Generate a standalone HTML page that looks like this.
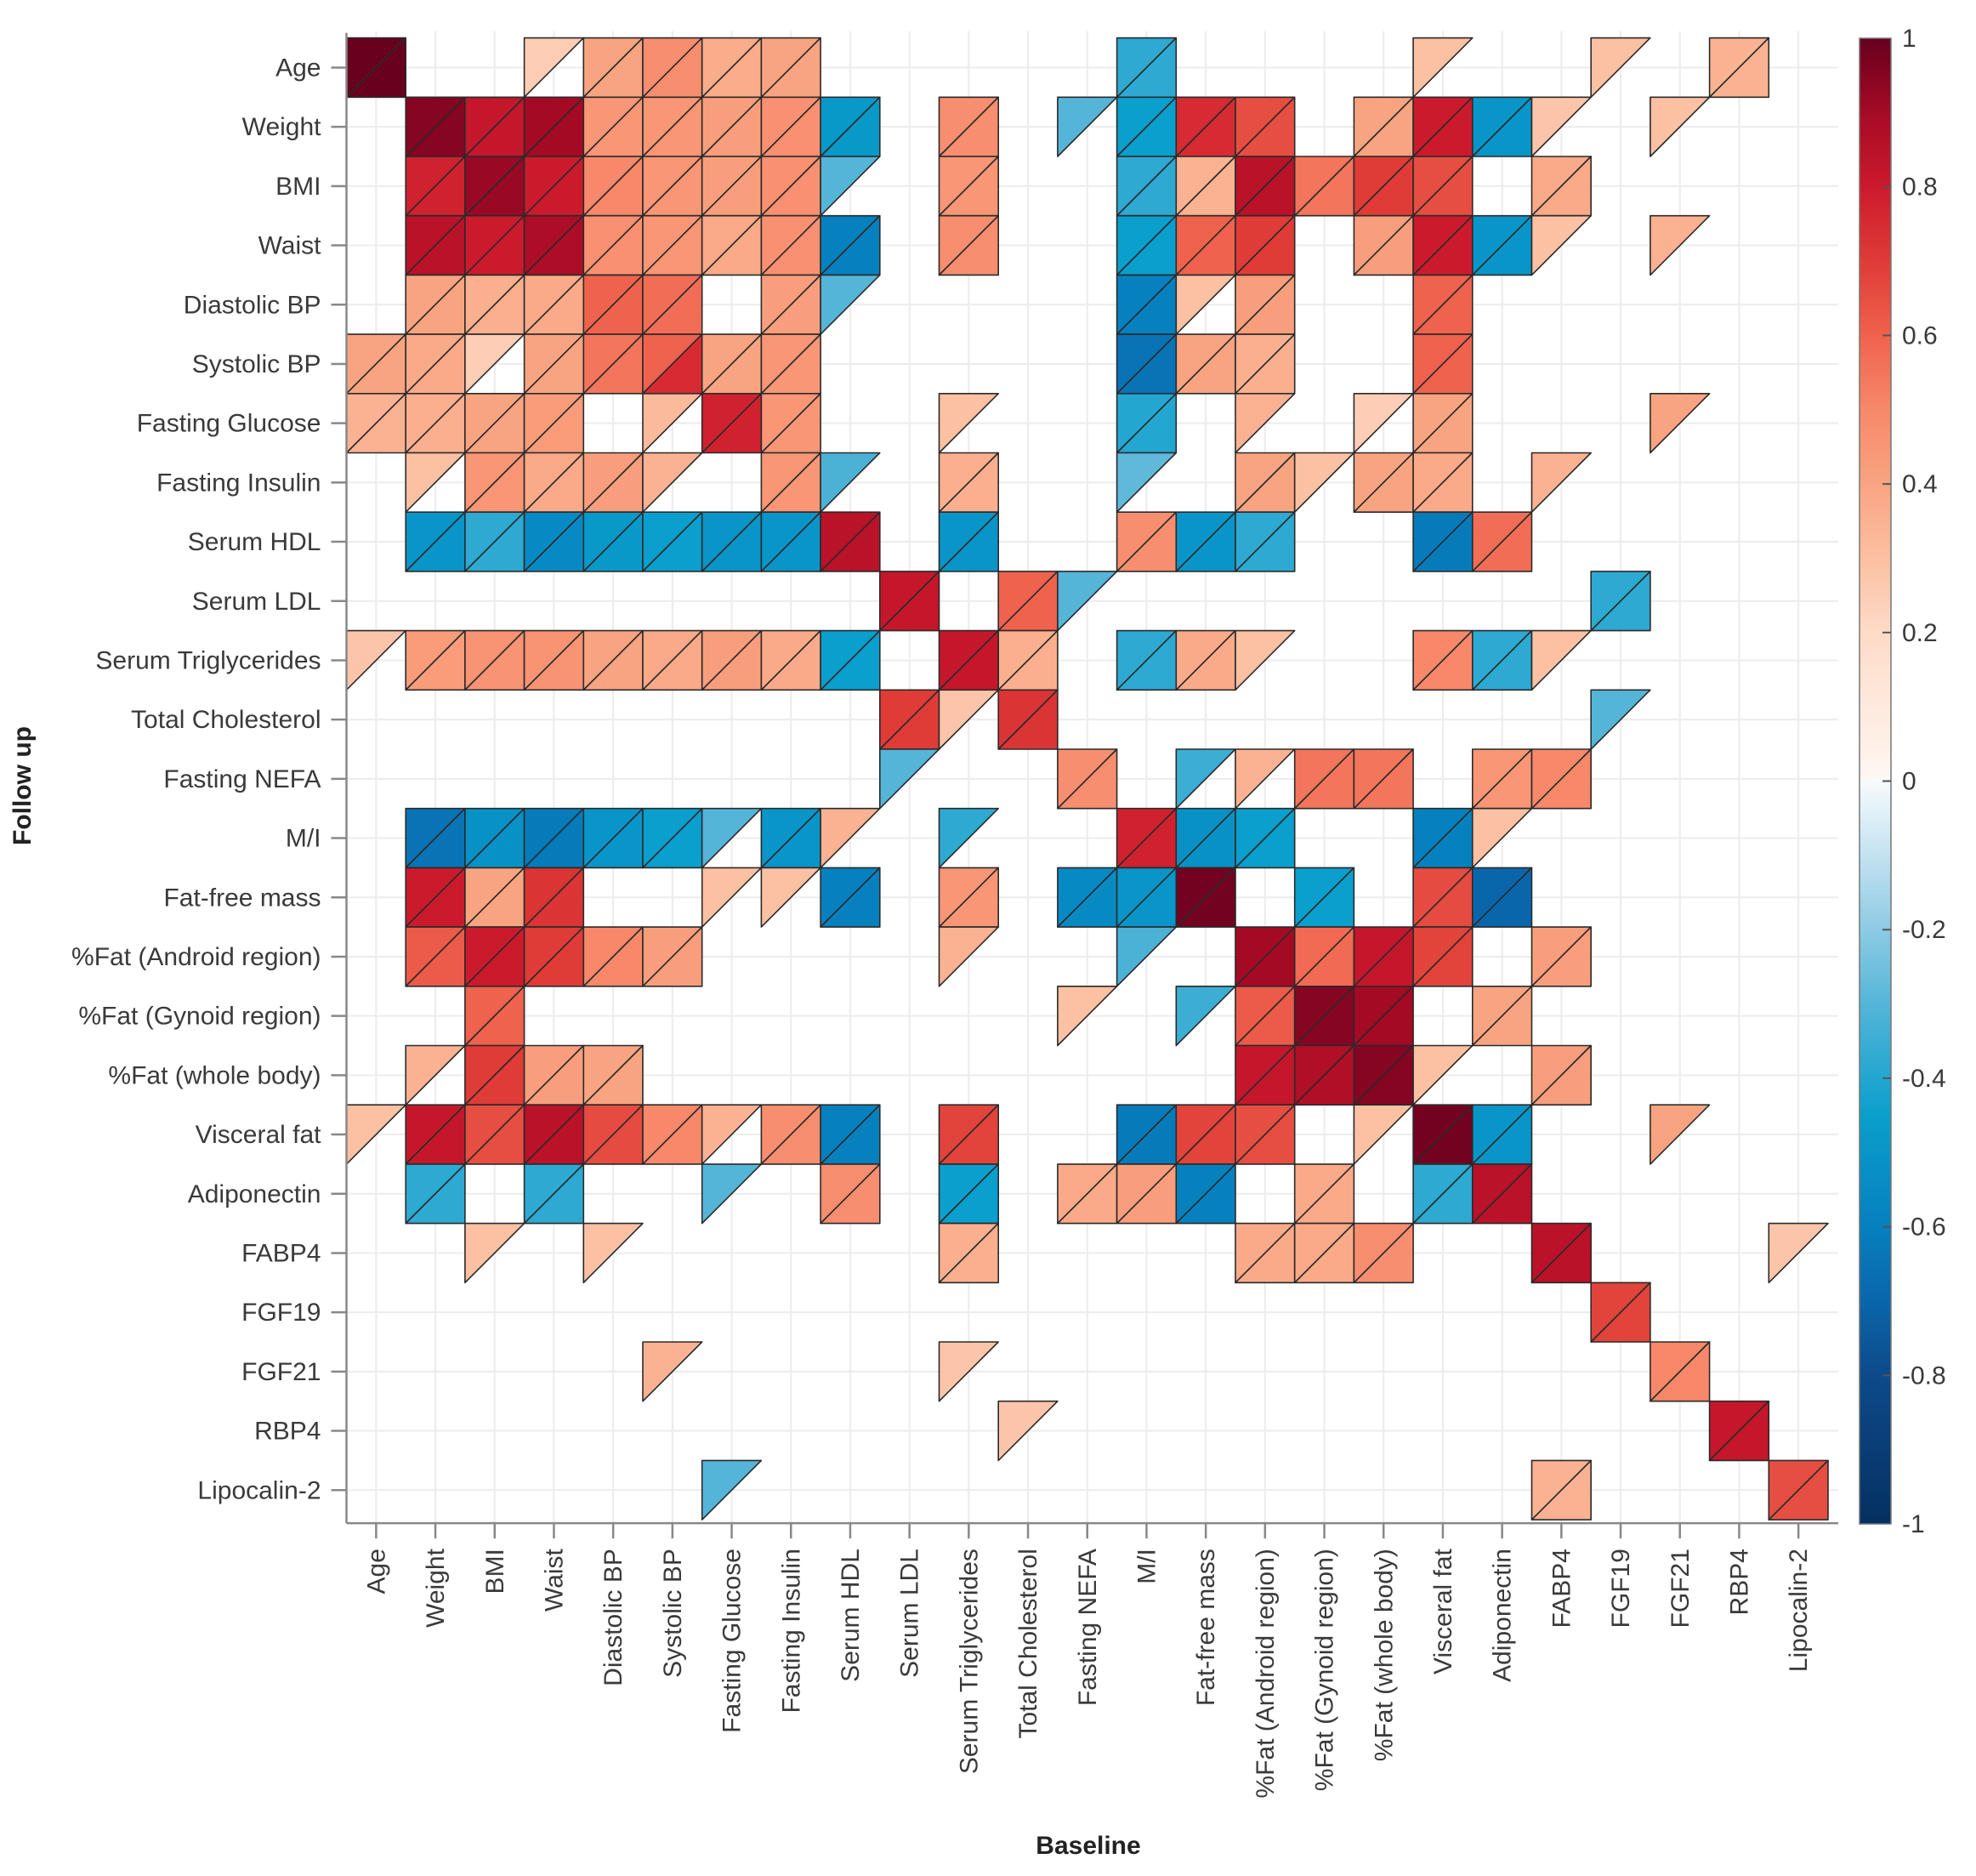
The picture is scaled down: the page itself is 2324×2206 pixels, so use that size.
<!DOCTYPE html>
<html><head><meta charset="utf-8"><title>Correlation heatmap</title>
<style>
html,body{margin:0;padding:0;background:#fff;}
svg{display:block;font-family:"Liberation Sans",Arial,sans-serif;}
</style></head>
<body>
<svg id="chart" width="2324" height="2206" viewBox="0 0 2324 2206" xmlns="http://www.w3.org/2000/svg">
<defs>
<linearGradient id="cbgrad" x1="0" y1="1" x2="0" y2="0"></linearGradient>
</defs>
<g id="grid"></g>
<g id="cells"></g>
<g id="axes"></g>
<g id="colorbar"></g>
<text x="0" y="0" transform="translate(36,924) rotate(-90)" text-anchor="middle" font-size="30" font-weight="bold" fill="#222">Follow up</text>
<text x="1280" y="2180" text-anchor="middle" font-size="30" font-weight="bold" fill="#222">Baseline</text>
</svg>
<script>
const variables = ["Age","Weight","BMI","Waist","Diastolic BP","Systolic BP","Fasting Glucose","Fasting Insulin","Serum HDL","Serum LDL","Serum Triglycerides","Total Cholesterol","Fasting NEFA","M/I","Fat-free mass","%Fat (Android region)","%Fat (Gynoid region)","%Fat (whole body)","Visceral fat","Adiponectin","FABP4","FGF19","FGF21","RBP4","Lipocalin-2"];
const colorbarTicks = [1,0.8,0.6,0.4,0.2,0,-0.2,-0.4,-0.6,-0.8,-1];
// each row: [baselineColumn, upperTriangleValue, lowerTriangleValue]
const row0 = [[0,1,1],[3,.25,null],[4,.4,.4],[5,.48,.48],[6,.37,.37],[7,.4,.4],[13,-.38,-.38],[18,.3,null],[21,.3,null],[23,.35,.35]];
const row1 = [[1,.95,.95],[2,.82,.82],[3,.9,.9],[4,.45,.45],[5,.45,.45],[6,.42,.42],[7,.47,.47],[8,-.48,-.48],[10,.48,.48],[12,-.3,null],[13,-.45,-.45],[14,.75,.75],[15,.65,.65],[17,.4,.4],[18,.8,.8],[19,-.5,-.5],[20,.28,null],[22,.3,null]];
const row2 = [[1,.78,.78],[2,.92,.92],[3,.8,.8],[4,.5,.5],[5,.45,.45],[6,.42,.42],[7,.47,.47],[8,-.3,null],[10,.45,.45],[13,-.38,-.38],[14,.35,.35],[15,.85,.85],[16,.55,.55],[17,.7,.7],[18,.65,.65],[20,.38,.38]];
const row3 = [[1,.85,.85],[2,.8,.8],[3,.88,.88],[4,.47,.47],[5,.45,.45],[6,.38,.38],[7,.47,.47],[8,-.6,-.6],[10,.48,.48],[13,-.45,-.45],[14,.6,.6],[15,.7,.7],[17,.42,.42],[18,.8,.8],[19,-.5,-.5],[20,.3,null],[22,.35,null]];
const row4 = [[1,.4,.4],[2,.36,.36],[3,.38,.38],[4,.6,.6],[5,.57,.57],[7,.42,.42],[8,-.3,null],[13,-.6,-.6],[14,.3,null],[15,.42,.42],[18,.6,.6]];
const row5 = [[0,.4,.4],[1,.38,.38],[2,.25,null],[3,.4,.4],[4,.55,.55],[5,.6,.75],[6,.4,.4],[7,.45,.45],[13,-.65,-.65],[14,.4,.4],[15,.36,.36],[18,.6,.6]];
const row6 = [[0,.35,.35],[1,.36,.36],[2,.4,.4],[3,.43,.43],[5,.32,null],[6,.78,.78],[7,.45,.45],[10,.3,null],[13,-.4,-.4],[15,.35,null],[17,.25,null],[18,.4,.4],[22,.4,null]];
const row7 = [[1,.3,null],[2,.45,.45],[3,.38,.38],[4,.42,.42],[5,.35,null],[7,.45,.45],[8,-.32,null],[10,.36,.36],[13,-.28,null],[15,.4,.4],[16,.3,null],[17,.4,.4],[18,.38,.38],[20,.35,null]];
const row8 = [[1,-.5,-.5],[2,-.38,-.38],[3,-.55,-.55],[4,-.48,-.48],[5,-.45,-.45],[6,-.5,-.5],[7,-.5,-.5],[8,.85,.85],[10,-.5,-.5],[13,.48,.48],[14,-.5,-.5],[15,-.38,-.38],[18,-.62,-.62],[19,.57,.57]];
const row9 = [[9,.82,.82],[11,.6,.6],[12,-.3,null],[21,-.38,-.38]];
const row10 = [[0,.28,null],[1,.43,.43],[2,.46,.46],[3,.46,.46],[4,.4,.4],[5,.38,.38],[6,.42,.42],[7,.38,.38],[8,-.45,-.45],[10,.82,.82],[11,.36,.36],[13,-.38,-.38],[14,.38,.38],[15,.3,null],[18,.5,.5],[19,-.38,-.38],[20,.3,null]];
const row11 = [[9,.7,.7],[10,.28,null],[11,.72,.72],[21,-.3,null]];
const row12 = [[9,-.3,null],[12,.48,.48],[14,-.35,null],[15,.35,null],[16,.55,.55],[17,.55,.55],[19,.45,.45],[20,.5,.5]];
const row13 = [[1,-.65,-.65],[2,-.52,-.52],[3,-.62,-.62],[4,-.5,-.5],[5,-.45,-.45],[6,-.3,null],[7,-.5,-.5],[8,.35,null],[10,-.38,null],[13,.78,.78],[14,-.52,-.52],[15,-.45,-.45],[18,-.6,-.6],[19,.3,null]];
const row14 = [[1,.8,.8],[2,.4,.4],[3,.72,.72],[6,.3,null],[7,.3,null],[8,-.6,-.6],[10,.45,.45],[12,-.55,-.55],[13,-.5,-.5],[14,.98,.98],[16,-.45,-.45],[18,.66,.66],[19,-.7,-.7]];
const row15 = [[1,.62,.62],[2,.8,.8],[3,.7,.7],[4,.5,.5],[5,.42,.42],[10,.35,null],[13,-.32,null],[15,.9,.9],[16,.58,.58],[17,.82,.82],[18,.68,.68],[20,.42,.42]];
const row16 = [[2,.6,.6],[12,.3,null],[14,-.35,null],[15,.62,.62],[16,.95,.95],[17,.9,.9],[19,.4,.4]];
const row17 = [[1,.35,null],[2,.7,.7],[3,.42,.42],[4,.4,.4],[15,.82,.82],[16,.87,.87],[17,.95,.95],[18,.3,null],[20,.42,.42]];
const row18 = [[0,.3,null],[1,.82,.82],[2,.65,.65],[3,.85,.85],[4,.66,.66],[5,.5,.5],[6,.35,null],[7,.48,.48],[8,-.6,-.6],[10,.68,.68],[13,-.62,-.62],[14,.68,.68],[15,.65,.65],[17,.3,null],[18,.98,.98],[19,-.5,-.5],[22,.4,null]];
const row19 = [[1,-.38,-.38],[3,-.38,-.38],[6,-.3,null],[8,.48,.48],[10,-.45,-.45],[12,.38,.38],[13,.42,.42],[14,-.6,-.6],[16,.38,.38],[18,-.38,-.38],[19,.85,.85]];
const row20 = [[2,.3,null],[4,.3,null],[10,.36,.36],[15,.38,.38],[16,.38,.38],[17,.48,.48],[20,.85,.85],[24,.28,null]];
const row21 = [[21,.68,.68]];
const row22 = [[5,.35,null],[10,.28,null],[22,.5,.5]];
const row23 = [[11,.28,null],[23,.82,.82]];
const row24 = [[6,-.3,null],[20,.35,.35],[24,.65,.65]];
const rowsData = [row0,row1,row2,row3,row4,row5,row6,row7,row8,row9,row10,row11,row12,row13,row14,row15,row16,row17,row18,row19,row20,row21,row22,row23,row24];

const NS = "http://www.w3.org/2000/svg";
const PL = 407.5, PT = 44.6, CELL = 69.7, N = variables.length;
const PR = PL + CELL * N, PB = PT + CELL * N;
function xPos(c){ return PL + CELL * c; }
function yPos(r){ return PT + CELL * r; }

const stops = [[-1,"#053061"],[-0.8,"#0d4a8a"],[-0.7,"#0a66ab"],[-0.6,"#0680be"],[-0.45,"#0a9fcc"],[-0.3,"#55b5d8"],[-0.15,"#a9d6ea"],[0,"#f7fbfd"],[0.01,"#fff6f1"],[0.2,"#fddbc7"],[0.3,"#fcc0a2"],[0.4,"#f9a481"],[0.5,"#f7886a"],[0.6,"#ef624d"],[0.7,"#df3b37"],[0.8,"#cc1a2d"],[0.9,"#a50a25"],[1,"#67001f"]];
function hex2rgb(h){ return [parseInt(h.substr(1,2),16),parseInt(h.substr(3,2),16),parseInt(h.substr(5,2),16)]; }
function colorFor(v){
  for (let i=0;i<stops.length-1;i++){
    const a=stops[i], b=stops[i+1];
    if (v>=a[0] && v<=b[0]){
      const t=(v-a[0])/(b[0]-a[0]); const ca=hex2rgb(a[1]), cb=hex2rgb(b[1]);
      return "rgb("+ca.map((x,k)=>Math.round(x+(cb[k]-x)*t)).join(",")+")";
    }
  }
  return v<0?stops[0][1]:stops[stops.length-1][1];
}
function mk(tag, attrs, parent){
  const e=document.createElementNS(NS,tag);
  for (const k in attrs) e.setAttribute(k, attrs[k]);
  parent.appendChild(e); return e;
}

// grid
const grid=document.getElementById("grid");
for (let i=0;i<N;i++){
  const gx=mk("line",{x1:xPos(i)+CELL/2,x2:xPos(i)+CELL/2,y1:PT-8,y2:PB+4,stroke:"#ececec","stroke-width":2},grid);
  
  
  const gy=mk("line",{x1:PL,x2:PR+12,y1:yPos(i)+CELL/2,y2:yPos(i)+CELL/2,stroke:"#ececec","stroke-width":2},grid);
  
  
}

// cells
const cells=document.getElementById("cells");
rowsData.forEach((row,r)=>{
  row.forEach(entry=>{
    const c=entry[0], u=entry[1], l=entry[2];
    const x0=xPos(c), x1=xPos(c+1), y0=yPos(r), y1=yPos(r+1);
    if (u!==null){
      const p=mk("polygon",{points:x0+","+y0+" "+x1+","+y0+" "+x0+","+y1,fill:colorFor(u),stroke:"#2a2a2a","stroke-width":1.6,"stroke-linejoin":"round"},cells);
      
      
    }
    if (l!==null){
      const p=mk("polygon",{points:x1+","+y0+" "+x1+","+y1+" "+x0+","+y1,fill:colorFor(l),stroke:"#2a2a2a","stroke-width":1.6,"stroke-linejoin":"round"},cells);
      
      
    }
  });
});

// axes
const axes=document.getElementById("axes");
const yl=mk("line",{x1:PL,x2:PL,y1:PT-6,y2:PB+4,stroke:"#888","stroke-width":2.5},axes);


const xl=mk("line",{x1:PL,x2:PR+12,y1:PB+4,y2:PB+4,stroke:"#888","stroke-width":2.5},axes);


variables.forEach((name,i)=>{
  const cy=yPos(i)+CELL/2;
  const t=mk("line",{x1:PL-18,x2:PL,y1:cy,y2:cy,stroke:"#888","stroke-width":2.5},axes);
  
  
  const lab=mk("text",{x:PL-30,y:cy+10,"text-anchor":"end","font-size":30,fill:"#3a3a3a"},axes);
  lab.textContent=name;
  
  
  const cx=xPos(i)+CELL/2;
  const tx=mk("line",{x1:cx,x2:cx,y1:PB+4,y2:PB+22,stroke:"#888","stroke-width":2.5},axes);
  
  
  const xlab=mk("text",{x:0,y:0,"text-anchor":"end","font-size":30,fill:"#3a3a3a",transform:"translate("+(cx+10)+","+(PB+34)+") rotate(-90)"},axes);
  xlab.textContent=name;
  
  
});

// colorbar
const grad=document.getElementById("cbgrad");
stops.forEach(s=>{
  mk("stop",{offset:((s[0]+1)/2*100)+"%","stop-color":s[1]},grad);
});
const cb=document.getElementById("colorbar");
const CBX=2187, CBW=37, CBT=45, CBB=1792;
function cbY(v){ return CBT + (1-v)/2*(CBB-CBT); }
const bar=mk("rect",{x:CBX,y:CBT,width:CBW,height:CBB-CBT,fill:"url(#cbgrad)",stroke:"#777","stroke-width":1.5},cb);


colorbarTicks.forEach(v=>{
  const y=cbY(v);
  if (v!==1 && v!==-1){
    const tk=mk("line",{x1:CBX+CBW-10,x2:CBX+CBW,y1:y,y2:y,stroke:"#555","stroke-width":2},cb);
    
    
  }
  const t=mk("text",{x:CBX+CBW+13,y:y+10,"font-size":30,fill:"#3a3a3a"},cb);
  t.textContent=String(v);
  
  
});
</script>
</body></html>
